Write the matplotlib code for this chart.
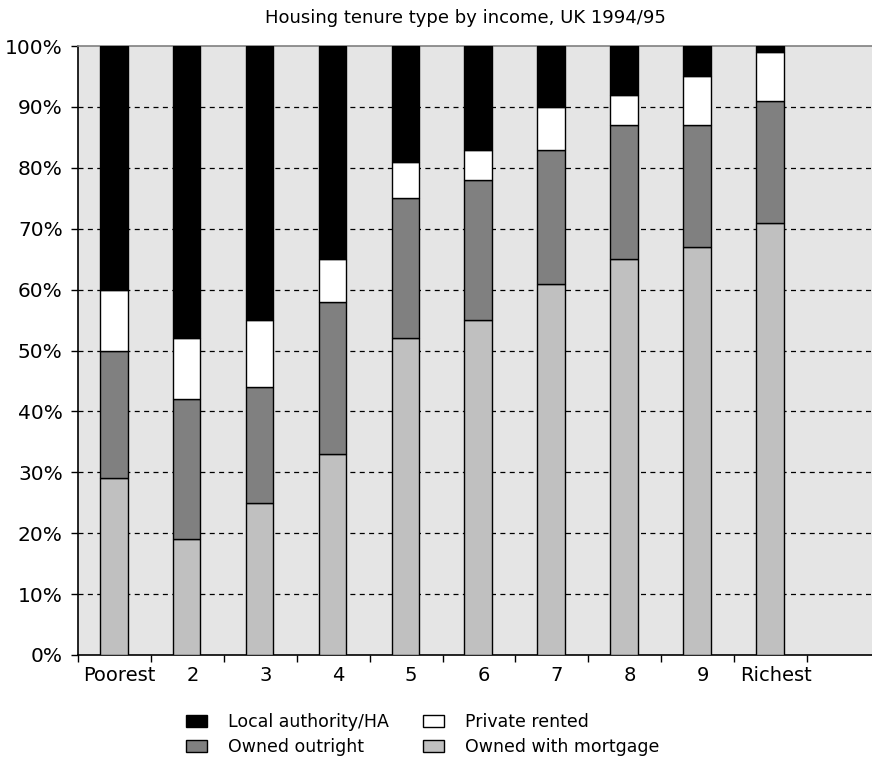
import matplotlib
matplotlib.use("Agg")
import matplotlib.pyplot as plt
import numpy as np
from matplotlib.patches import Patch

groups = ["Poorest", "2", "3", "4", "5", "6", "7", "8", "9", "Richest"]
mortgage = [29, 19, 25, 33, 52, 55, 61, 65, 67, 71]
outright = [21, 23, 19, 25, 23, 23, 22, 22, 20, 20]
private = [10, 10, 11, 7, 6, 5, 7, 5, 8, 8]
local_auth = [40, 48, 45, 35, 19, 17, 10, 8, 5, 1]
yticks = list(range(0, 101, 10))

plt.rcParams["font.family"] = "DejaVu Sans"

fig = plt.figure(figsize=(8.72, 7.69), dpi=100)
ax = fig.add_axes([78 / 872, 1 - 655 / 769, 1 - 78 / 872, (655 - 46) / 769])
ax.set_facecolor("#e5e5e5")

x = np.arange(len(groups))
left = x + 0.30
width = 0.38
series = [
    (mortgage, "#c0c0c0", "Owned with mortgage"),
    (outright, "#808080", "Owned outright"),
    (private, "#ffffff", "Private rented"),
    (local_auth, "#000000", "Local authority/HA"),
]
bottom = np.zeros(len(groups))
for vals, col, name in series:
    ax.bar(left, vals, width, bottom=bottom, align="edge", color=col,
           edgecolor="black", linewidth=1.0, zorder=3)
    bottom += np.array(vals)

for yv in yticks[1:-1]:
    ax.axhline(yv, color="black", linewidth=0.9, linestyle=(0, (4, 3.5)), zorder=1)

ax.set_xlim(0, 10.89)
ax.set_ylim(0, 100)
ax.set_yticks(yticks)
ax.set_yticklabels([f"{v}%" for v in yticks])
ax.set_xticks(np.arange(0, 11))
ax.set_xticklabels([])
ax.set_xticks(x + 0.57, minor=True)
ax.set_xticklabels(groups, minor=True)
ax.tick_params(axis="x", which="major", length=5, width=1, direction="out")
ax.tick_params(axis="x", which="minor", length=0, pad=8, labelsize=14)
ax.tick_params(axis="y", length=5, width=1, pad=6, labelsize=14.5)

for side in ["left", "bottom"]:
    ax.spines[side].set_color("black")
    ax.spines[side].set_linewidth(1.2)
ax.spines["top"].set_color("#808080")
ax.spines["top"].set_linewidth(1.2)
ax.spines["right"].set_visible(False)

fig.text(465 / 872, 1 - 18 / 769, "Housing tenure type by income, UK 1994/95",
         ha="center", va="center", fontsize=13)

handles = [
    Patch(facecolor="#000000", edgecolor="black", label="Local authority/HA"),
    Patch(facecolor="#808080", edgecolor="black", label="Owned outright"),
    Patch(facecolor="#ffffff", edgecolor="black", label="Private rented"),
    Patch(facecolor="#c0c0c0", edgecolor="black", label="Owned with mortgage"),
]
fig.legend(handles=handles, ncol=2, loc="upper left",
           bbox_to_anchor=(186 / 872, 1 - 713 / 769), frameon=False,
           fontsize=12.5, handlelength=1.2, handleheight=0.7,
           handletextpad=1.2, columnspacing=2.0, labelspacing=0.42,
           borderpad=0, borderaxespad=0)

fig.savefig("out.png", dpi=100)
